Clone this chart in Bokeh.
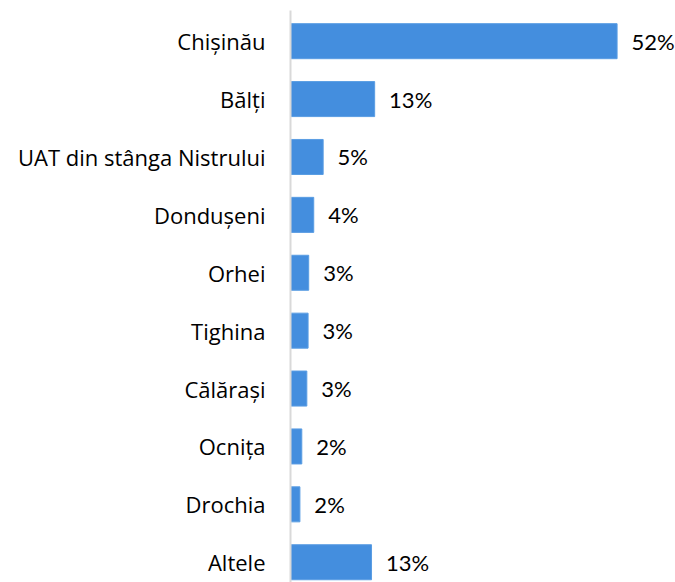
from bokeh.plotting import figure
from bokeh.models import ColumnDataSource, Range1d, FixedTicker
from bokeh.core.properties import value
from bokeh.embed import file_html
from bokeh.resources import INLINE

categories = ["Chișinău", "Bălți", "UAT din stânga Nistrului", "Dondușeni", "Orhei",
              "Tighina", "Călărași", "Ocnița", "Drochia", "Altele"]
shares = [52.0, 13.4, 5.2, 3.7, 2.9, 2.8, 2.6, 1.8, 1.5, 12.9]
labels = ["52%", "13%", "5%", "4%", "3%", "3%", "3%", "2%", "2%", "13%"]

pos = list(range(len(categories)))
src = ColumnDataSource(dict(y=pos, v=shares, lab=labels, lx=[s + 2.3 for s in shares]))

p = figure(width=675, height=582, output_backend="svg", toolbar_location=None,
           x_range=Range1d(0, 61.3), y_range=Range1d(9.35, -0.53),
           min_border_left=290, min_border_right=0, min_border_top=10, min_border_bottom=0)

p.hbar(y="y", right="v", left=0, height=0.605, source=src,
       fill_color="#448EDE", line_color="#5a9de3", line_width=1)
p.text(x="lx", y="y", text="lab", source=src, text_baseline="middle", text_align="left",
       text_font=value("Lato"), text_font_size="22px", text_color="#000000")

p.xaxis.visible = False
p.xgrid.visible = False
p.ygrid.visible = False
p.outline_line_color = None

ax = p.yaxis[0]
ax.ticker = FixedTicker(ticks=pos)
ax.major_label_overrides = {i: c for i, c in zip(pos, categories)}
ax.major_tick_line_color = None
ax.minor_tick_line_color = None
ax.axis_line_color = "#d9d9d9"
ax.axis_line_width = 2
ax.major_label_standoff = 19
ax.major_label_text_font = "Open Sans"
ax.major_label_text_font_size = "22px"
ax.major_label_text_color = "#000000"

open("out.html", "w").write(file_html(p, INLINE))
